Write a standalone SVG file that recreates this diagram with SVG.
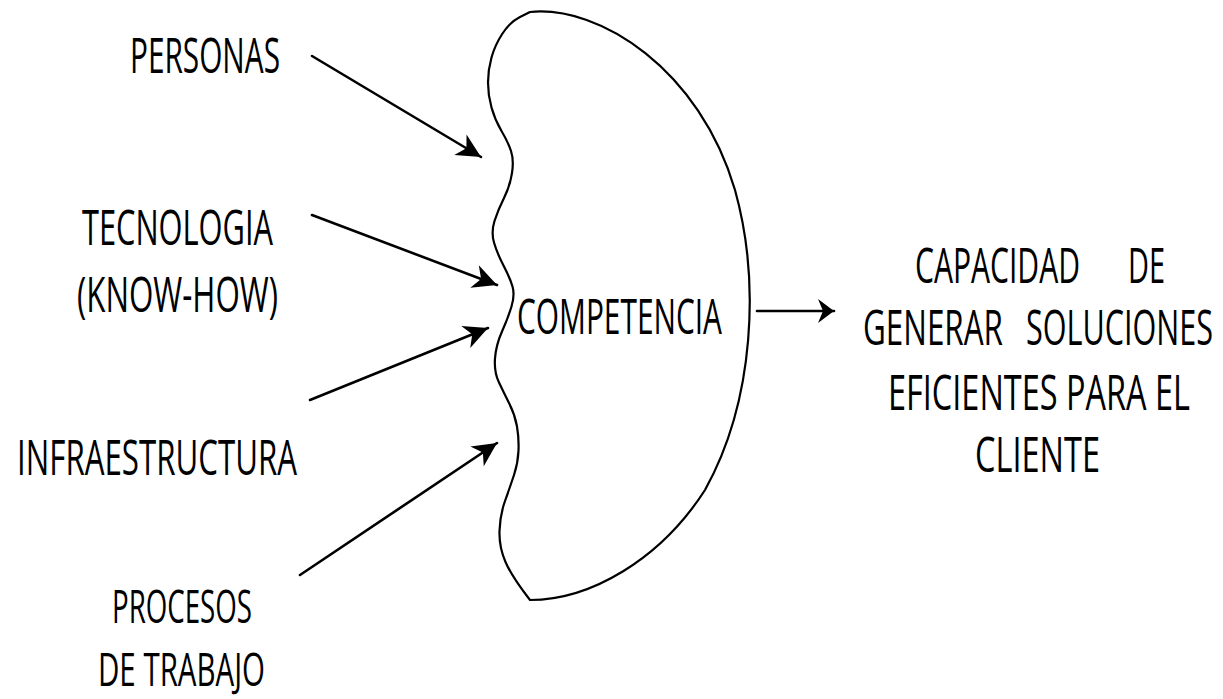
<svg xmlns="http://www.w3.org/2000/svg" width="1223" height="699" viewBox="0 0 1223 699">
<style>
.t{font-family:"Open Sans","DejaVu Sans",sans-serif;font-size:50px;fill:#000;}
.s{font-size:46px;}
.c{fill:none;stroke:#000;stroke-width:2.6;stroke-linecap:round;}
.bean{fill:none;stroke:#000;stroke-width:2.2;stroke-linejoin:round;}
</style>
<defs>
<marker id="ah" markerUnits="userSpaceOnUse" viewBox="-26 -14 28 28" refX="0" refY="0" markerWidth="28" markerHeight="28" orient="auto">
<path d="M0,0 L-24,-12 L-17,0 L-24,12 Z" fill="#000"/>
</marker>
<marker id="ah2" markerUnits="userSpaceOnUse" viewBox="-18 -14 20 28" refX="0" refY="0" markerWidth="20" markerHeight="28" orient="auto">
<path d="M0,0 L-16,-12 L-11,0 L-16,12 Z" fill="#000"/>
</marker>
</defs>
<rect width="1223" height="699" fill="#fff"/>
<g id="personas" transform="scale(0.6,1)"><text class="t" x="216.67" y="73" textLength="250" lengthAdjust="spacingAndGlyphs">PERSONAS</text></g>
<g id="tecnologia" transform="scale(0.6,1)"><text class="t" x="136.67" y="245" textLength="318.33" lengthAdjust="spacingAndGlyphs">TECNOLOGIA</text><text class="t" x="128.33" y="312" textLength="335" lengthAdjust="spacingAndGlyphs">(KNOW-HOW)</text></g>
<g id="infraestructura" transform="scale(0.6,1)"><text class="t" x="28.33" y="475" textLength="466.67" lengthAdjust="spacingAndGlyphs">INFRAESTRUCTURA</text></g>
<g id="procesos" transform="scale(0.6,1)"><text class="t s" x="186.67" y="623" textLength="233.33" lengthAdjust="spacingAndGlyphs">PROCESOS</text><text class="t s" x="163.33" y="686" textLength="278.33" lengthAdjust="spacingAndGlyphs">DE TRABAJO</text></g>
<g id="competencia">
<path class="bean" d="M530,12 C600,5 700,70 735,190 C760,280 755,400 705,490 C660,560 590,600 530,600 Q512,577 505.5,562 Q499,547 499.5,531 Q500,515 505,501 Q510,487 514,475 Q518,463 518.5,450.5 Q519,438 517,426.5 Q515,415 509.5,404 Q504,393 499,382.5 Q494,372 495,358.5 Q496,345 502,331.5 Q508,318 511.5,306.5 Q515,295 512.5,286.5 Q510,278 503.5,265.5 Q497,253 494,242.5 Q491,232 494.5,221 Q498,210 504,198 Q510,186 512,173 Q514,160 511,151 Q508,142 501.5,131 Q495,120 491.5,107.5 Q488,95 488,82.5 Q488,70 491.5,57.5 Q495,45 502.5,33.5 Q510,22 520,17 Z"/>
<text class="t" transform="scale(0.6,1)" x="861.67" y="334" textLength="341.67" lengthAdjust="spacingAndGlyphs">COMPETENCIA</text>
</g>
<g id="capacidad" transform="scale(0.6,1)">
<text class="t" x="1525" y="283" textLength="275" lengthAdjust="spacingAndGlyphs">CAPACIDAD</text>
<text class="t" x="1880" y="283" textLength="61.67" lengthAdjust="spacingAndGlyphs">DE</text>
<text class="t" x="1438.33" y="345" textLength="233.33" lengthAdjust="spacingAndGlyphs">GENERAR</text>
<text class="t" x="1710" y="345" textLength="311.67" lengthAdjust="spacingAndGlyphs">SOLUCIONES</text>
<text class="t" x="1480" y="410" textLength="503.33" lengthAdjust="spacingAndGlyphs">EFICIENTES PARA EL</text>
<text class="t" x="1625" y="472" textLength="208.33" lengthAdjust="spacingAndGlyphs">CLIENTE</text>
</g>
<g id="connectors">
<line class="c" x1="312" y1="56" x2="481" y2="157" marker-end="url(#ah)"/>
<line class="c" x1="312" y1="215" x2="497" y2="285" marker-end="url(#ah)"/>
<line class="c" x1="310" y1="400" x2="488" y2="328" marker-end="url(#ah)"/>
<line class="c" x1="300" y1="575" x2="497" y2="443" marker-end="url(#ah)"/>
<line class="c" x1="757" y1="311" x2="834" y2="311" marker-end="url(#ah2)"/>
</g>
</svg>
